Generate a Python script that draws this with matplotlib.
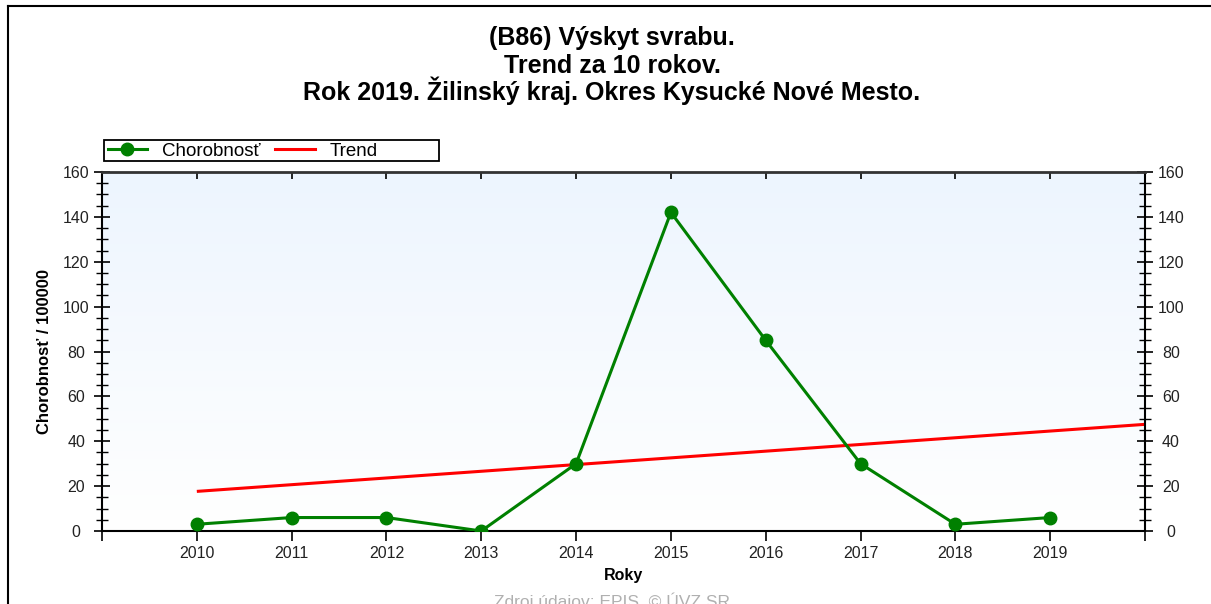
import numpy as np
import matplotlib
matplotlib.use("Agg")
import matplotlib.pyplot as plt
from matplotlib.colors import LinearSegmentedColormap
from matplotlib.lines import Line2D
from matplotlib.patches import Rectangle
from matplotlib.ticker import MultipleLocator

plt.rcParams['font.family'] = ['Liberation Sans', 'DejaVu Sans']

# incidence per 100 000 inhabitants
years = [2010, 2011, 2012, 2013, 2014, 2015, 2016, 2017, 2018, 2019]
incidence = [3, 6, 6, 0, 30, 142, 85, 30, 3, 6]

title_lines = ["(B86) Výskyt svrabu.",
               "Trend za 10 rokov.",
               "Rok 2019. Žilinský kraj. Okres Kysucké Nové Mesto."]

W, H = 1211, 604
fig = plt.figure(figsize=(W / 100, H / 100), dpi=100)
ax = fig.add_axes([102 / W, (H - 531) / H, (1145 - 102) / W, (531 - 172) / H])

x0, x1 = years[0] - 1, years[-1] + 1
ymax = 160

# light blue -> white background gradient
grad = np.linspace(1, 0, 256).reshape(-1, 1)
cmap = LinearSegmentedColormap.from_list("bg", ["#ffffff", "#edf5fe"])
ax.imshow(grad, cmap=cmap, extent=[x0, x1, 0, ymax], aspect='auto', zorder=0)

# linear trend over the 10 years
k, q = np.polyfit(years, incidence, 1)
tx = np.array([years[0], x1])
ax.plot(tx, k * tx + q, color='#ff0000', lw=2.2, zorder=2, solid_capstyle='butt')

ax.plot(years, incidence, color='#008000', lw=2.2, marker='o', ms=9,
        markerfacecolor='#008000', markeredgecolor='#008000', zorder=3)

ax.set_xlim(x0, x1)
ax.set_ylim(0, ymax)

# x axis: ticks every year, labels only for data years
ax.set_xticks(list(range(x0, x1 + 1)))
ax.set_xticklabels([str(y) if y in years else "" for y in range(x0, x1 + 1)])
ax.tick_params(axis='x', which='major', direction='out', length=7, width=1.2,
               labelsize=11.5, pad=4, top=True, labeltop=False, labelcolor='#222222')
for t in ax.xaxis.get_major_ticks():
    t.tick2line.set_markersize(5)
    t.tick2line.set_marker(matplotlib.lines.TICKDOWN)

# y axis on both sides, ticks crossing the spine
ax.yaxis.set_major_locator(MultipleLocator(20))
ax.yaxis.set_minor_locator(MultipleLocator(5))
ax.tick_params(axis='y', which='major', direction='inout', length=12, width=1.2,
               labelsize=11.5, left=True, right=True, labelleft=True, labelright=True,
               pad=12.5, labelcolor='#222222')
ax.tick_params(axis='y', which='minor', direction='inout', length=8, width=1.0,
               left=True, right=True)
for t in ax.yaxis.get_major_ticks():
    t.label1.set_ha('center')
    t.label2.set_ha('center')

for side in ['left', 'right', 'bottom']:
    ax.spines[side].set_linewidth(1.5)
    ax.spines[side].set_color('black')
ax.spines['top'].set_linewidth(2)
ax.spines['top'].set_color('#333333')

ax.set_xlabel("Roky", fontsize=11.5, fontweight='bold', labelpad=5)
fig.text(45 / W, 1 - 352 / H, "Chorobnosť / 100000", rotation=90,
         ha='center', va='center', fontsize=12, fontweight='bold')

for line, yb in zip(title_lines, [45, 73, 100]):
    fig.text(612 / W, 1 - yb / H, line, ha='center', va='baseline',
             fontsize=18, fontweight='bold')

# legend above the plot area
handles = [Line2D([], [], color='#008000', lw=2.2, marker='o', ms=9),
           Line2D([], [], color='#ff0000', lw=2.2)]
fig.legend(handles, ["Chorobnosť", "Trend"], ncol=2, frameon=False,
           loc='center left', bbox_to_anchor=(100 / W, 1 - 151 / H),
           fontsize=13.5, handlelength=2.1, handletextpad=0.8, columnspacing=0.8,
           borderaxespad=0)
fig.patches.append(Rectangle((104 / W, 1 - 161 / H), (439 - 104) / W, 21 / H,
                             transform=fig.transFigure, fill=False,
                             edgecolor='black', lw=1.3))

fig.text(612 / W, 1 - 593 / H, "Zdroj údajov: EPIS, © ÚVZ SR", ha='center',
         va='top', fontsize=12.5, color='#b0b0b0')

# outer frame (left and top edges)
fig.add_artist(Line2D([8 / W, 8 / W], [0, 1 - 6 / H], transform=fig.transFigure,
                      color='black', lw=1.5))
fig.add_artist(Line2D([8 / W, 1], [1 - 6 / H, 1 - 6 / H], transform=fig.transFigure,
                      color='black', lw=1.5))

fig.savefig("out.png", dpi=100, facecolor='white')
